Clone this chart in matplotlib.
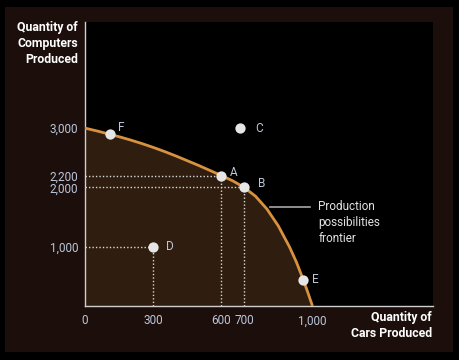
import matplotlib
matplotlib.use("Agg")
import matplotlib.pyplot as plt
from matplotlib.patches import Rectangle

# Frontier
frontier_cars = [0, 50, 100, 150, 200, 250, 300, 350, 400, 450, 500, 550, 600,
                 650, 700, 750, 800, 850, 900, 930, 960, 980, 1000]
frontier_computers = [3000, 2955, 2905, 2855, 2800, 2740, 2675, 2605, 2530, 2450,
                      2370, 2285, 2200, 2110, 2000, 1850, 1635, 1350, 990, 735,
                      440, 225, 0]

point_names = ["F", "A", "B", "C", "D", "E"]
point_cars = [110, 600, 700, 680, 300, 960]
point_computers = [2895, 2200, 2000, 3000, 1000, 440]

x_ticks = [0, 300, 600, 700, 1000]
x_tick_labels = ["0", "300", "600", "700", "1,000"]
y_ticks = [1000, 2000, 2200, 3000]
y_tick_labels = ["1,000", "2,000", "2,200", "3,000"]

guide_points = ["A", "B", "D"]

W, H = 460, 360
fig = plt.figure(figsize=(W / 100, H / 100), dpi=100, facecolor="black")
fig.patches.append(Rectangle((5 / W, 1 - 352 / H), 448 / W, 345 / H,
                             transform=fig.transFigure, facecolor="#1b0e0b",
                             edgecolor="none", zorder=-10))

ax = fig.add_axes([85 / W, 1 - 306 / H, 348 / W, 284 / H])
ax.set_zorder(1)
ax.set_facecolor("black")
ax.set_xlim(0, 1530)
ax.set_ylim(0, 4790)

font = ["Roboto", "DejaVu Sans"]
tick_color = "#bcc6da"

ax.fill_between(frontier_cars, frontier_computers, 0, color="#2f1e0f", lw=0, zorder=1)
ax.plot(frontier_cars, frontier_computers, color="#d8923f", lw=2.0, zorder=3,
        solid_capstyle="butt", solid_joinstyle="round")

pts = dict(zip(point_names, zip(point_cars, point_computers)))
for name in guide_points:
    px, py = pts[name]
    ax.plot([0, px], [py, py], color="#d8d8d8", lw=1.0, ls=(0, (1, 1.5)), zorder=2)
    ax.plot([px, px], [0, py], color="#d8d8d8", lw=1.0, ls=(0, (1, 1.5)), zorder=2)

ax.scatter(point_cars, point_computers, s=55, color="#e6e6e6", zorder=5, lw=0)

offsets = {"F": (6, 5), "A": (6, 2), "B": (10, 3), "C": (11, 0), "D": (9, 0), "E": (6, 0)}
for name, x, y in zip(point_names, point_cars, point_computers):
    ox, oy = offsets[name]
    ax.annotate(name, (x, y), xytext=(ox, oy), textcoords="offset points",
                color=tick_color, fontsize=8.5, family=font, va="center", ha="left")

# frontier label
ax.plot([813, 990], [1675, 1675], color="#a8a8a8", lw=1.2, zorder=2)
ax.text(1025, 1785, "Production\npossibilities\nfrontier", color="#e2e2e2",
        fontsize=8.5, family=font, va="top", ha="left", linespacing=1.3)

ax.set_xticks(x_ticks)
ax.set_xticklabels(x_tick_labels)
ax.set_yticks(y_ticks)
ax.set_yticklabels(y_tick_labels)
ax.tick_params(length=0, colors=tick_color, labelsize=8.5)
ax.tick_params(axis="x", pad=6)
ax.tick_params(axis="y", pad=5)
for lab in ax.get_xticklabels() + ax.get_yticklabels():
    lab.set_family(font)

for s in ["top", "right"]:
    ax.spines[s].set_visible(False)
for s in ["left", "bottom"]:
    ax.spines[s].set_color("#cfcfcf")
    ax.spines[s].set_linewidth(1.0)

fig.text(78 / W, 1 - 21 / H, "Quantity of\nComputers\nProduced", color="white",
         fontsize=8.8, fontweight="bold", family=font, ha="right", va="top",
         linespacing=1.3)
fig.text(432 / W, 1 - 311 / H, "Quantity of\nCars Produced", color="white",
         fontsize=8.8, fontweight="bold", family=font, ha="right", va="top",
         linespacing=1.3)

fig.savefig("out.png", dpi=100, facecolor="black")
